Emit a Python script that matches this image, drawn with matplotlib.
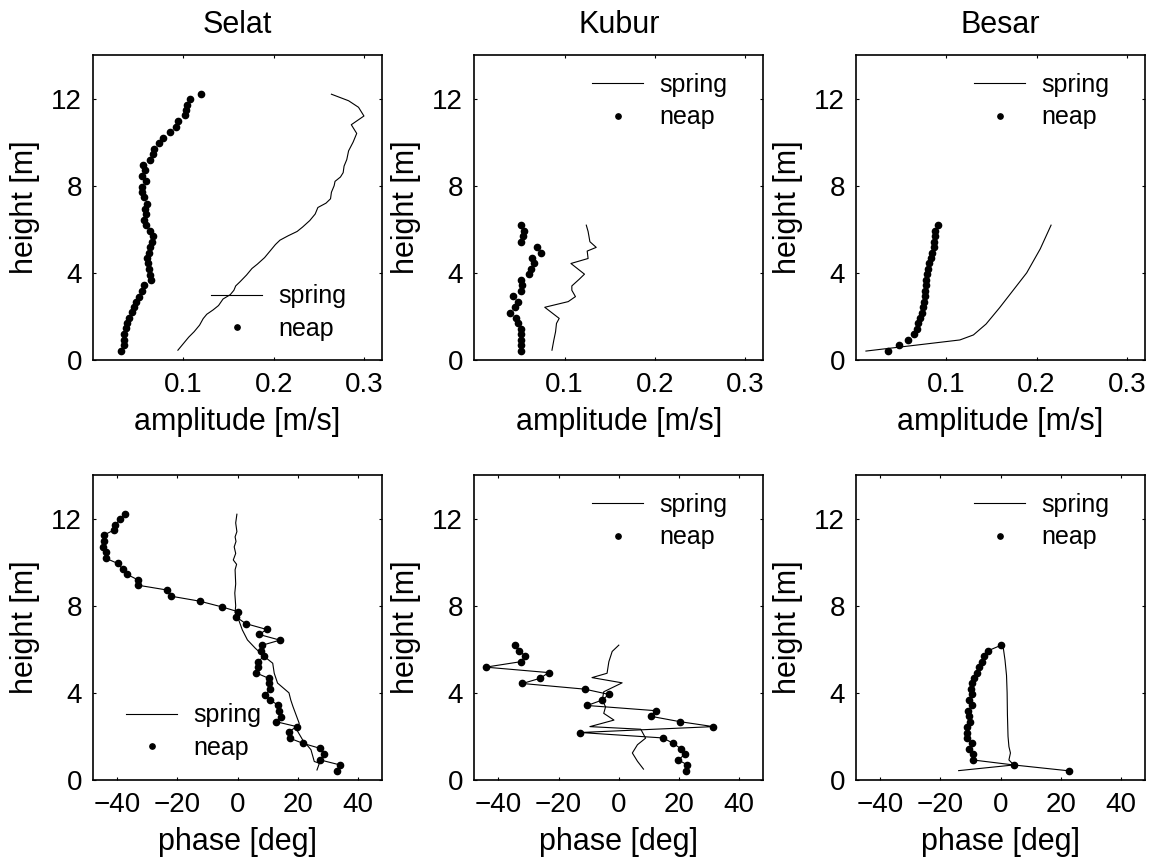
import matplotlib
matplotlib.use('Agg')
import matplotlib.pyplot as plt

plt.rcParams['font.family'] = ['Liberation Sans', 'DejaVu Sans']
plt.rcParams['font.size'] = 20

stations = ['Selat', 'Kubur', 'Besar']

# neap profiles (dots), heights in m
selat_neap_h = [0.41, 0.69, 0.92, 1.18, 1.45, 1.68, 1.91, 2.22, 2.45, 2.68, 2.91, 3.18,
                3.43, 3.67, 3.9, 4.16, 4.43, 4.66, 4.92, 5.17, 5.43, 5.69, 5.93, 6.19,
                6.42, 6.68, 6.91, 7.18, 7.49, 7.72, 7.95, 8.21, 8.44, 8.72, 8.94, 9.18,
                9.44, 9.68, 9.94, 10.17, 10.46, 10.7, 10.96, 11.24, 11.47, 11.7, 11.96, 12.2]
short_neap_h = [0.42, 0.69, 0.92, 1.18, 1.42, 1.68, 1.93, 2.18, 2.45, 2.68, 2.92, 3.18,
                3.42, 3.67, 3.93, 4.17, 4.43, 4.67, 4.93, 5.18, 5.43, 5.69, 5.93, 6.19]

selat_neap_amp = [0.031, 0.034, 0.034, 0.034, 0.036, 0.038, 0.040, 0.043, 0.045, 0.048, 0.051, 0.054,
                  0.057, 0.064, 0.063, 0.062, 0.061, 0.060, 0.062, 0.063, 0.065, 0.066, 0.063, 0.059,
                  0.056, 0.059, 0.058, 0.060, 0.057, 0.054, 0.054, 0.059, 0.054, 0.058, 0.055, 0.063,
                  0.066, 0.068, 0.073, 0.077, 0.085, 0.092, 0.094, 0.102, 0.103, 0.104, 0.107, 0.120]
kubur_neap_amp = [0.052, 0.052, 0.052, 0.052, 0.052, 0.048, 0.046, 0.040, 0.045, 0.048, 0.043, 0.052,
                  0.053, 0.052, 0.061, 0.063, 0.066, 0.064, 0.074, 0.069, 0.052, 0.054, 0.055, 0.052]
besar_neap_amp = [0.035, 0.048, 0.058, 0.064, 0.067, 0.069, 0.071, 0.073, 0.074, 0.075, 0.076, 0.076,
                  0.077, 0.078, 0.079, 0.080, 0.081, 0.083, 0.084, 0.086, 0.086, 0.087, 0.087, 0.091]

selat_neap_ph = [32.9, 34.1, 27.5, 28.8, 27.5, 21.8, 17.5, 17.1, 19.7, 12.7, 14.3, 13.8,
                 13.6, 10.8, 9.2, 10.8, 10.3, 10.5, 6.1, 6.9, 6.9, 8.8, 7.7, 8.3,
                 14.1, 7.2, 9.7, 2.7, -0.5, 0.3, -5.3, -12.6, -22.2, -23.4, -33.0, -33.0,
                 -36.7, -38.2, -39.8, -43.6, -43.6, -44.6, -44.4, -44.4, -41.1, -40.6, -39.1, -37.5]
kubur_neap_ph = [22.2, 22.8, 19.8, 21.9, 20.8, 18.1, 14.7, -12.8, 31.4, 20.2, 10.8, 12.4,
                 -10.5, -5.5, -3.3, -11.3, -32.0, -26.1, -23.3, -44.2, -32.6, -31.0, -33.1, -34.4]
besar_neap_ph = [22.8, 4.4, -9.2, -9.1, -10.6, -9.4, -11.1, -11.1, -11.1, -10.2, -10.6, -10.9,
                 -9.4, -10.6, -9.4, -9.8, -9.4, -8.7, -7.8, -7.0, -6.3, -5.6, -4.2, 0.3]

# spring profiles (lines)
selat_spring_amp = [0.094, 0.100, 0.106, 0.112, 0.118, 0.122, 0.126, 0.133, 0.139, 0.144, 0.152,
                    0.156, 0.158, 0.163, 0.170, 0.176, 0.182, 0.190, 0.196, 0.202, 0.207, 0.216,
                    0.226, 0.232, 0.240, 0.246, 0.249, 0.258, 0.263, 0.264, 0.267, 0.268, 0.274,
                    0.277, 0.278, 0.281, 0.283, 0.288, 0.292, 0.286, 0.300, 0.294, 0.283, 0.264]
selat_spring_amp_h = [0.45, 0.75, 1.05, 1.3, 1.6, 1.9, 2.1, 2.3, 2.5, 2.8, 3.0,
                      3.2, 3.4, 3.6, 3.9, 4.2, 4.4, 4.7, 5.0, 5.3, 5.5, 5.7,
                      5.9, 6.1, 6.4, 6.7, 7.0, 7.2, 7.4, 7.7, 8.0, 8.2, 8.4,
                      8.6, 8.9, 9.2, 9.6, 10.0, 10.4, 10.8, 11.2, 11.6, 11.9, 12.2]
selat_spring_ph = [26.4, 27.2, 25.5, 24.4, 21.6, 19.7, 20.5, 18.4, 17.7, 17.1, 13.3, 12.2,
                   11.7, 8.9, 5.9, 3.3, 1.6, 0.0, -0.8, -0.6, -0.9, -0.6, -0.8, -0.3,
                   -1.4, -0.6, -1.1, -0.5, -0.8, -0.2, -0.6, -0.2]
selat_spring_ph_h = [0.46, 0.77, 0.85, 1.39, 1.85, 2.3, 2.6, 3.38, 3.67, 4.0, 4.45, 4.9,
                     5.36, 5.67, 6.05, 6.43, 6.89, 7.5, 7.7, 8.0, 8.58, 9.0, 9.65, 9.9,
                     10.1, 10.4, 10.7, 10.95, 11.16, 11.4, 11.8, 12.2]

kubur_spring_amp = [0.086, 0.088, 0.090, 0.091, 0.094, 0.078, 0.104, 0.112, 0.108, 0.108,
                    0.116, 0.122, 0.107, 0.126, 0.125, 0.135, 0.128, 0.126, 0.124]
kubur_spring_amp_h = [0.45, 0.9, 1.3, 1.68, 1.91, 2.42, 2.68, 2.91, 3.2, 3.4,
                      3.7, 3.94, 4.43, 4.66, 5.0, 5.17, 5.43, 5.9, 6.19]
kubur_spring_ph = [8.2, 6.2, 4.5, 6.2, 8.9, 7.3, -9.6, -1.6, -5.0, -4.4, -5.5, -5.0,
                   1.1, -8.9, -3.9, -3.3, -2.2, 0.0]
kubur_spring_ph_h = [0.5, 0.86, 1.24, 1.62, 1.92, 2.33, 2.45, 2.75, 3.06, 3.36, 3.67, 4.05,
                     4.46, 4.7, 4.9, 5.43, 5.9, 6.19]

besar_spring_amp = [0.011, 0.115, 0.130, 0.144, 0.159, 0.174, 0.189, 0.204, 0.216]
besar_spring_amp_h = [0.41, 0.92, 1.15, 1.65, 2.4, 3.2, 4.0, 5.1, 6.19]
besar_spring_ph = [-13.9, 4.4, 2.8, 3.3, 2.8, 2.5, 2.3, 2.2, 2.0, 1.5, 0.8]
besar_spring_ph_h = [0.43, 0.69, 0.92, 1.24, 1.53, 2.0, 3.0, 4.0, 4.8, 5.5, 6.19]

amp_neap = [selat_neap_amp, kubur_neap_amp, besar_neap_amp]
ph_neap = [selat_neap_ph, kubur_neap_ph, besar_neap_ph]
neap_h = [selat_neap_h, short_neap_h, short_neap_h]
amp_spring = [(selat_spring_amp, selat_spring_amp_h), (kubur_spring_amp, kubur_spring_amp_h),
              (besar_spring_amp, besar_spring_amp_h)]
ph_spring = [(selat_spring_ph, selat_spring_ph_h), (kubur_spring_ph, kubur_spring_ph_h),
             (besar_spring_ph, besar_spring_ph_h)]

W, H = 1155, 865
fig = plt.figure(figsize=(W / 100, H / 100), dpi=100)

lefts = [93, 474.3, 856]
aw = 289
rows = [(55, 360), (475, 780)]
# legend anchors (axes fraction) per row/column
leg_pos = [[(0.408, 0.248), (0.408, 0.942), (0.408, 0.942)],
           [(0.115, 0.251), (0.408, 0.942), (0.408, 0.942)]]


def style(ax):
    for s in ax.spines.values():
        s.set_linewidth(1.2)
    ax.tick_params(direction='in', top=True, right=True, length=2.5, width=0.8)
    ax.tick_params(axis='x', pad=9)
    ax.tick_params(axis='y', pad=8)
    ax.set_ylim(0, 14)
    ax.set_yticks([0, 4, 8, 12])
    ax.set_ylabel('height [m]', fontsize=22, labelpad=8)


for r, (top, bot) in enumerate(rows):
    for c in range(3):
        ax = fig.add_axes([lefts[c] / W, 1 - bot / H, aw / W, (bot - top) / H])
        style(ax)
        if r == 0:
            sx, sy = amp_spring[c]
            l1, = ax.plot(sx, sy, 'k-', lw=0.8, label='spring')
            l2, = ax.plot(amp_neap[c], neap_h[c], 'k.', marker='o', ms=4.5, lw=0, label='neap')
            ax.set_xlim(0, 0.32)
            ax.set_xticks([0.1, 0.2, 0.3])
            ax.set_xticklabels(['0.1', '0.2', '0.3'])
            ax.set_xlabel('amplitude [m/s]', fontsize=22, labelpad=6)
            ax.set_title(stations[c], fontsize=22, pad=16)
        else:
            sx, sy = ph_spring[c]
            l1, = ax.plot(sx, sy, 'k-', lw=0.8, label='spring')
            ax.plot(ph_neap[c], neap_h[c], 'k-', lw=0.8)
            l2, = ax.plot(ph_neap[c], neap_h[c], 'k.', marker='o', ms=4.5, lw=0, label='neap')
            ax.set_xlim(-48, 48)
            ax.set_xticks([-40, -20, 0, 20, 40])
            ax.set_xlabel('phase [deg]', fontsize=22, labelpad=6)
        ax.legend(handles=[l1, l2], loc='upper left', bbox_to_anchor=leg_pos[r][c],
                  frameon=False, borderaxespad=0, borderpad=0, handlelength=2.05,
                  handletextpad=0.65, labelspacing=0.35, markerscale=0.85, fontsize=18)

fig.savefig('out.png', dpi=100)
